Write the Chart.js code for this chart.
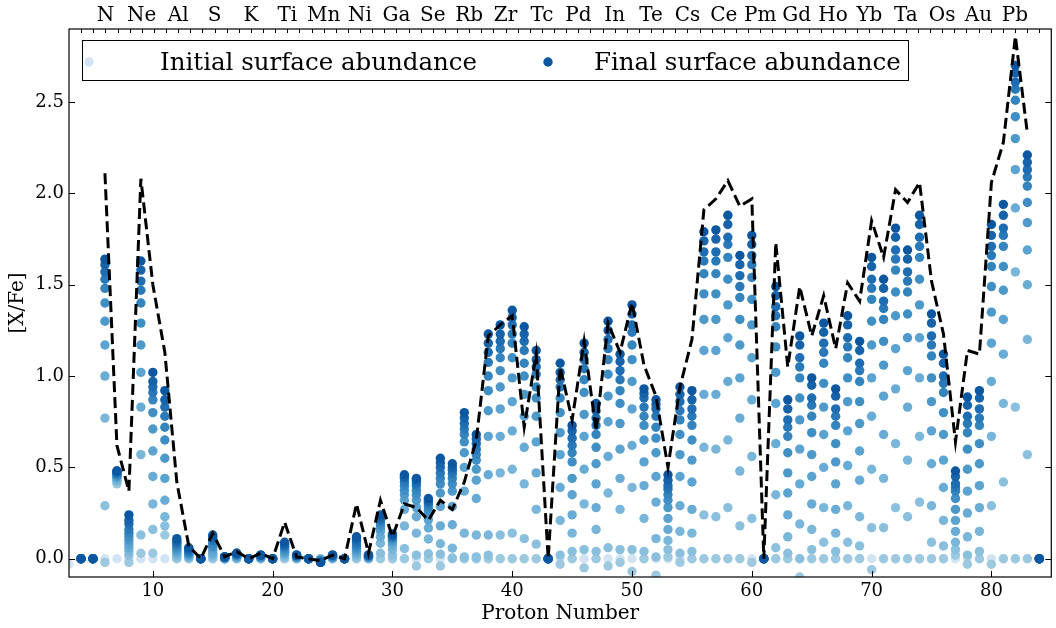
<!DOCTYPE html>
<html><head><meta charset="utf-8">
<script src="https://cdn.jsdelivr.net/npm/chart.js@4/dist/chart.umd.min.js"></script>
<style>html,body{margin:0;padding:0;background:#fff;} #wrap{width:1056px;height:628px;position:relative;}</style>
</head><body><div id="wrap"><canvas id="c" width="1056" height="628"></canvas></div>
<script>
// ---------------- data ----------------
const protonNumbers = [3,4,5,6,7,8,9,10,11,12,13,14,15,16,17,18,19,20,21,22,23,24,25,26,27,28,29,30,31,32,33,34,35,36,37,38,39,40,41,42,43,44,45,46,47,48,49,50,51,52,53,54,55,56,57,58,59,60,61,62,63,64,65,66,67,68,69,70,71,72,73,74,75,76,77,78,79,80,81,82,83,84];

const initialAbund = [-0.03,0,0,0,0,0,0,0,0,0, 0,0,0,0,0,0,0,0,0,0, 0,0,0,0,0,0,0,0,0,0, 0,0,0,0,0,0,0,0,0,0, 0,0,0,0,0,0,0,0,0,0, 0,0,0,0,0,0,0,0,0,0, 0,0,0,0,0,0,0,0,0,0, 0,0,0,0,0,0,0,0,0,0, 0,0];
const fduAbund = [null,0,0,-0.02,0.41,-0.02,0.03,0.03,0.13,0, 0,0,0,0,0,0,0,0,0,0, 0,0,0,0,0,0,0,0,0,-0.04, 0,-0.04,0,0,0,0,0,0,0,0, 0,-0.03,0,-0.05,0,-0.04,-0.02,-0.07,0,-0.09, 0.01,-0.02,0,0,0,0,0,-0.02,0,0, 0,-0.1,0,0,0,0,0,-0.06,0,0, 0,0,0,0,0.02,-0.03,0,-0.03,0,0, 0,0];
const pulse1 = [null,0,0,0.29,0.42,0.02,0.13,0.16,0.18,0.01, 0.005,0,0.01,0,0,0,0,0,0.01,0, 0,0,0,0,0.01,0,0.03,0.02,0.055,0.02, 0.027,0.025,0.004,0.01,0.01,0.02,0.13,0.14,0.11,0.08, 0,0.02,0.04,0.05,0.04,0.06,0.05,0.05,0.04,0.01, 0.05,0.03,0.04,0.24,0.23,0.28,0.18,0.22,0,0.06, 0.03,0,0.05,0.09,0.04,0.09,0.07,0.17,0.17,0.28, 0.23,0.31,0.09,0.07,0.05,0.02,0.04,0.29,0.42,0.83, 0.57,0];
const pulse2 = [null,0,0,0.77,0.43,0.04,0.57,0.30,0.23,0.02, 0.01,0,0.02,0,0.005,0,0.005,0,0.02,0.005, 0,-0.005,0.005,0,0.02,0.005,0.085,0.05,0.18,0.14, 0.108,0.082,0.058,0.14,0.13,0.13,0.47,0.49,0.41,0.27, 0,0.21,0.14,0.30,0.16,0.36,0.27,0.39,0.22,0.11, 0.10,0.15,0.14,0.61,0.60,0.65,0.48,0.56,0,0.35, 0.12,0.19,0.16,0.28,0.14,0.29,0.23,0.49,0.44,0.63, 0.54,0.67,0.29,0.21,0.09,0.12,0.15,0.67,0.85,1.57, 1.20,0];
const pulse3 = [null,0,0,1.00,0.44,0.06,0.83,0.45,0.32,0.03, 0.015,0,0.03,0,0.01,0,0.005,0,0.025,0.005, 0,-0.005,0.005,0,0.03,0.005,0.12,0.075,0.27,0.23, 0.168,0.18,0.186,0.37,0.33,0.46,0.67,0.70,0.61,0.47, 0,0.39,0.24,0.49,0.28,0.56,0.44,0.62,0.40,0.31, 0.16,0.29,0.27,0.90,0.90,0.97,0.77,0.87,0,0.63, 0.24,0.41,0.30,0.50,0.27,0.51,0.43,0.78,0.68,0.93, 0.83,0.99,0.52,0.39,0.15,0.25,0.28,0.97,1.12,1.92, 1.50,0];
const pulse4 = [null,0,0,1.17,0.45,0.08,1.02,0.59,0.44,0.04, 0.02,0,0.045,0,0.01,0,0.01,0,0.035,0.01, 0,-0.01,0.01,0,0.04,0.01,0.15,0.09,0.32,0.28, 0.213,0.286,0.286,0.50,0.43,0.67,0.82,0.86,0.78,0.64, 0,0.57,0.35,0.67,0.41,0.75,0.60,0.82,0.53,0.45, 0.22,0.45,0.42,1.14,1.14,1.21,0.99,1.10,0,0.85, 0.36,0.60,0.45,0.68,0.41,0.70,0.59,0.99,0.89,1.15, 1.03,1.21,0.70,0.54,0.21,0.37,0.40,1.18,1.31,2.13, 1.69,0];
const pulse5 = [null,0,0,1.30,0.45,0.10,1.17,0.71,0.55,0.05, 0.025,0,0.06,0.005,0.015,0,0.01,0,0.04,0.01, 0,-0.01,0.01,0,0.05,0.01,0.17,0.10,0.35,0.32, 0.24,0.36,0.37,0.58,0.49,0.81,0.94,0.99,0.90,0.78, 0,0.69,0.44,0.79,0.52,0.89,0.74,0.97,0.65,0.58, 0.28,0.57,0.54,1.31,1.31,1.39,1.17,1.28,0,1.02, 0.47,0.76,0.57,0.83,0.53,0.86,0.74,1.17,1.06,1.33, 1.21,1.39,0.86,0.68,0.27,0.49,0.52,1.35,1.47,2.30, 1.84,0];
const pulse6 = [null,0,0,1.40,0.46,0.12,1.29,0.80,0.65,0.06, 0.03,0,0.07,0.005,0.02,0,0.01,0,0.05,0.01, 0,-0.01,0.01,0,0.06,0.01,0.185,0.11,0.375,0.35, 0.265,0.41,0.41,0.64,0.54,0.92,1.03,1.10,1.00,0.88, 0,0.80,0.53,0.91,0.61,1.01,0.85,1.09,0.73,0.66, 0.32,0.68,0.65,1.45,1.45,1.53,1.31,1.42,0,1.16, 0.58,0.88,0.69,0.96,0.63,0.99,0.86,1.30,1.19,1.46, 1.34,1.53,0.99,0.80,0.33,0.60,0.63,1.49,1.60,2.42, 1.95,0];
const pulse7 = [null,0,0,1.48,0.46,0.14,1.40,0.87,0.72,0.07, 0.035,0,0.085,0.01,0.02,0,0.015,0,0.06,0.015, 0,-0.015,0.015,0,0.07,0.015,0.20,0.115,0.40,0.375, 0.285,0.44,0.44,0.68,0.57,1.00,1.10,1.18,1.07,0.94, 0,0.88,0.58,0.98,0.68,1.09,0.92,1.17,0.78,0.72, 0.35,0.76,0.73,1.56,1.56,1.65,1.43,1.54,0,1.27, 0.67,0.99,0.78,1.07,0.73,1.10,0.97,1.42,1.31,1.58, 1.46,1.65,1.11,0.91,0.37,0.69,0.73,1.60,1.71,2.51, 2.04,0];
const pulse8 = [null,0,0,1.53,0.47,0.16,1.47,0.91,0.78,0.08, 0.04,0,0.10,0.01,0.025,0,0.015,0,0.065,0.015, 0,-0.015,0.015,0,0.08,0.015,0.21,0.12,0.42,0.40, 0.30,0.47,0.465,0.71,0.60,1.075,1.15,1.23,1.14,1.01, 0,0.94,0.62,1.04,0.73,1.15,0.98,1.24,0.83,0.78, 0.38,0.81,0.78,1.63,1.63,1.72,1.49,1.61,0,1.33, 0.72,1.05,0.84,1.13,0.78,1.16,1.03,1.48,1.37,1.64, 1.52,1.71,1.17,0.96,0.39,0.74,0.77,1.66,1.77,2.57, 2.09,0];
const pulse9 = [null,0,0,1.57,0.47,0.19,1.52,0.94,0.83,0.09, 0.05,0,0.11,0.01,0.025,0,0.02,0,0.075,0.02, 0,-0.02,0.02,0,0.095,0.02,0.22,0.125,0.44,0.415, 0.31,0.50,0.485,0.74,0.63,1.13,1.19,1.28,1.19,1.05, 0,0.98,0.66,1.09,0.77,1.20,1.03,1.28,0.88,0.82, 0.40,0.86,0.82,1.68,1.68,1.76,1.55,1.66,0,1.38, 0.76,1.10,0.88,1.18,0.82,1.21,1.07,1.53,1.41,1.69, 1.57,1.76,1.22,1.00,0.41,0.78,0.82,1.71,1.81,2.61, 2.13,0];
const pulse10 = [null,0,0,1.61,0.48,0.21,1.58,0.97,0.87,0.10, 0.055,0,0.12,0.01,0.03,0,0.02,0,0.08,0.02, 0,-0.02,0.02,0,0.11,0.02,0.23,0.13,0.45,0.43, 0.32,0.525,0.50,0.77,0.655,1.18,1.23,1.32,1.23,1.09, 0,1.02,0.70,1.13,0.81,1.25,1.08,1.34,0.905,0.845, 0.43,0.90,0.87,1.74,1.75,1.83,1.61,1.72,0,1.44, 0.82,1.17,0.95,1.24,0.89,1.28,1.14,1.60,1.48,1.76, 1.64,1.83,1.29,1.07,0.45,0.84,0.88,1.77,1.88,2.66, 2.17,0];
const finalAbund = [null,0,0,1.64,0.48,0.24,1.63,1.02,0.92,0.11, 0.06,0,0.13,0.01,0.03,0,0.02,0,0.09,0.02, 0,-0.02,0.02,0,0.12,0.02,0.24,0.135,0.46,0.44, 0.33,0.55,0.52,0.80,0.68,1.23,1.28,1.36,1.27,1.14, 0,1.07,0.73,1.18,0.85,1.30,1.12,1.39,0.93,0.87, 0.46,0.94,0.92,1.79,1.80,1.88,1.66,1.77,0,1.49, 0.87,1.22,0.99,1.29,0.93,1.33,1.19,1.65,1.53,1.81, 1.69,1.88,1.34,1.12,0.48,0.885,0.92,1.83,1.94,2.70, 2.21,0];

// dashed comparison curve
const observedZ = [6,7,8,9,10,11,12,13,14,15,16,17,18,19,20,21,22,23,24,25,26,27,28,29,30,31,32,33,34,35,36,37,38,39,40,41,42,43,44,45,46,47,48,49,50,51,52,53,54,55,56,57,58,59,60,61,62,63,64,65,66,67,68,69,70,71,72,73,74,75,76,77,78,79,80,81,82,83];
const observedAbund = [2.11,0.62,0.37,2.08,1.50,1.13,0.42,0.07,0.0,0.14, 0.01,0.04,0.0,0.03,0.0,0.20,0.01,0.0,-0.01,0.02, 0.0,0.30,0.03,0.32,0.12,0.30,0.28,0.21,0.32,0.27, 0.42,0.65,1.22,1.28,1.33,0.72,1.12,0.0,1.05,0.76, 1.19,0.70,1.29,1.13,1.40,1.06,0.89,0.50,0.94,1.20, 1.91,1.97,2.07,1.93,1.97,0.0,1.73,1.05,1.49,1.22, 1.44,1.15,1.51,1.41,1.85,1.65,2.02,1.95,2.06,1.52, 1.23,0.64,1.14,1.12,2.06,2.28,2.86,2.33];

// axes / labels
const xTickValues = [10,20,30,40,50,60,70,80];
const yTickValues = [0,0.5,1.0,1.5,2.0,2.5];
const elementTickZ = [7,10,13,16,19,22,25,28,31,34,37,40,43,46,49,52,55,58,61,64,67,70,73,76,79,82];
const elementSymbols = ['N','Ne','Al','S','K','Ti','Mn','Ni','Ga','Se','Rb','Zr','Tc','Pd','In','Te','Cs','Ce','Pm','Gd','Ho','Yb','Ta','Os','Au','Pb'];
const legendLabels = ['Initial surface abundance','Final surface abundance'];

// ---------------- styling ----------------
const stepSeries = [initialAbund,fduAbund,pulse1,pulse2,pulse3,pulse4,pulse5,pulse6,pulse7,pulse8,pulse9,pulse10,finalAbund];
const stepColors = ['#d2e3f3','#9cc9e0','#8abfdd','#79b6d9','#68acd5','#5ba3d0','#4d99c9','#3f8fc5','#3484be','#2979b8','#1e6db2','#1663aa','#0d57a1'];
const FONT = 'DejaVu Serif';
Chart.defaults.font.family = FONT;
Chart.defaults.color = '#000';

const datasets = stepSeries.map((arr, s) => ({
  type: 'scatter',
  label: 'step' + s,
  data: protonNumbers.map((z, i) => ({x: z, y: arr[i]})).filter(p => p.y !== null),
  backgroundColor: stepColors[s],
  borderWidth: 0,
  pointRadius: 4.7,
  pointHoverRadius: 4.7,
  order: stepSeries.length - s,
  clip: 0
}));
datasets.push({
  type: 'line',
  label: 'observed',
  data: observedZ.map((z, i) => ({x: z, y: observedAbund[i]})),
  borderColor: '#000',
  borderWidth: 3,
  borderDash: [11, 5],
  pointRadius: 0,
  tension: 0,
  fill: false,
  order: -1
});

const framePlugin = {
  id: 'frame',
  afterDraw(chart) {
    const {ctx, chartArea: a, scales} = chart;
    ctx.save();
    ctx.strokeStyle = '#000';
    ctx.lineWidth = 1.2;
    ctx.strokeRect(a.left, a.top, a.right - a.left, a.bottom - a.top);
    ctx.lineWidth = 1;
    ctx.beginPath();
    xTickValues.forEach(v => { const px = Math.round(scales.x.getPixelForValue(v)) + 0.5; ctx.moveTo(px, a.bottom); ctx.lineTo(px, a.bottom - 6); });
    yTickValues.forEach(v => { const py = Math.round(scales.y.getPixelForValue(v)) + 0.5; ctx.moveTo(a.left, py); ctx.lineTo(a.left + 6, py); ctx.moveTo(a.right, py); ctx.lineTo(a.right - 6, py); });
    for (let z = 5; z <= 84; z++) { const px = Math.round(scales.x2.getPixelForValue(z)) + 0.5; ctx.moveTo(px, a.top); ctx.lineTo(px, a.top + 4); }
    ctx.stroke();
    // legend box
    ctx.fillStyle = '#fff';
    ctx.fillRect(82.5, 40.5, 826, 40);
    ctx.strokeRect(82.5, 40.5, 826, 40);
    ctx.fillStyle = stepColors[0];
    ctx.beginPath(); ctx.arc(89, 62, 4.7, 0, Math.PI * 2); ctx.fill();
    ctx.fillStyle = stepColors[stepColors.length - 1];
    ctx.beginPath(); ctx.arc(548, 62, 4.7, 0, Math.PI * 2); ctx.fill();
    ctx.fillStyle = '#000';
    ctx.font = '24.5px "' + FONT + '"';
    ctx.textBaseline = 'alphabetic';
    ctx.textAlign = 'left';
    ctx.fillText(legendLabels[0], 160, 70);
    ctx.fillText(legendLabels[1], 594, 70);
    ctx.restore();
  }
};

new Chart(document.getElementById('c'), {
  type: 'scatter',
  data: {datasets},
  options: {
    responsive: false,
    animation: false,
    devicePixelRatio: 1,
    events: [],
    layout: {padding: {left: 0, right: 2, top: 0, bottom: 0}},
    plugins: {legend: {display: false}, tooltip: {enabled: false}},
    scales: {
      x: {
        type: 'linear', position: 'bottom', min: 3, max: 85,
        afterBuildTicks: s => { s.ticks = xTickValues.map(v => ({value: v})); },
        afterFit: s => { s.height = 51; },
        grid: {display: false, drawTicks: false},
        border: {display: false},
        ticks: {font: {size: 18, family: FONT}, color: '#000', padding: 4, maxRotation: 0, autoSkip: false},
        title: {display: true, text: 'Proton Number', font: {size: 20, family: FONT}, color: '#000', padding: {top: 0, bottom: 2}}
      },
      x2: {
        type: 'linear', position: 'top', min: 4, max: 85, display: true,
        afterBuildTicks: s => { s.ticks = elementTickZ.map(v => ({value: v})); },
        afterFit: s => { s.height = 29; },
        grid: {display: false, drawTicks: false},
        border: {display: false},
        ticks: {font: {size: 20, family: FONT}, color: '#000', padding: 1, maxRotation: 0, autoSkip: false,
          callback: (v) => elementSymbols[elementTickZ.indexOf(v)] || ''}
      },
      y: {
        type: 'linear', position: 'left', min: -0.1, max: 2.9,
        afterBuildTicks: s => { s.ticks = yTickValues.map(v => ({value: v})); },
        afterFit: s => { s.width = 69; },
        grid: {display: false, drawTicks: false},
        border: {display: false},
        ticks: {font: {size: 18, family: FONT}, color: '#000', padding: 5, callback: v => Number(v).toFixed(1)},
        title: {display: true, text: '[X/Fe]', font: {size: 20, family: FONT}, color: '#000', padding: {top: 6, bottom: 0}}
      }
    }
  },
  plugins: [framePlugin]
});
</script>
</body></html>
